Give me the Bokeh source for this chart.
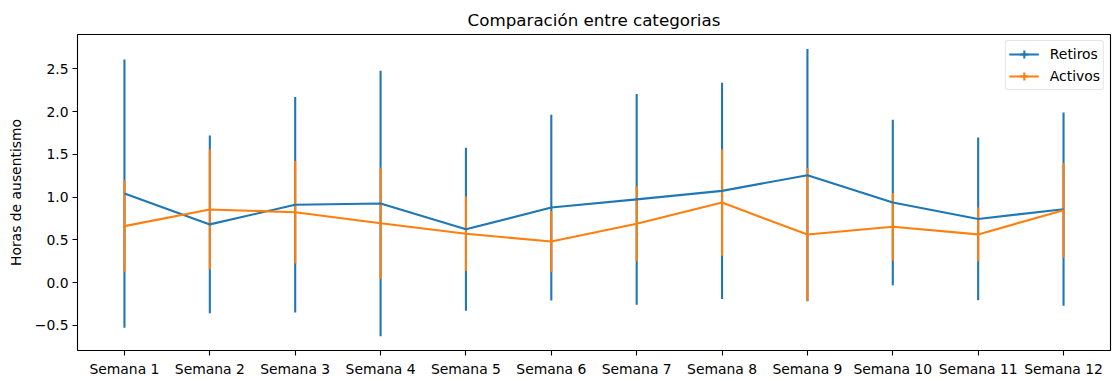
from bokeh.plotting import figure
from bokeh.models import FactorRange, Range1d, FixedTicker, Legend, LegendItem
from bokeh.embed import file_html
from bokeh.resources import INLINE

# Weekly absenteeism hours: mean and spread for each group
semanas = ["Semana 1", "Semana 2", "Semana 3", "Semana 4", "Semana 5", "Semana 6",
           "Semana 7", "Semana 8", "Semana 9", "Semana 10", "Semana 11", "Semana 12"]
retiros = [1.04, 0.68, 0.91, 0.925, 0.623, 0.877, 0.973, 1.072, 1.255, 0.937, 0.744, 0.858]
retiros_err = [1.57, 1.04, 1.26, 1.553, 0.954, 1.086, 1.232, 1.266, 1.475, 0.968, 0.952, 1.13]
activos = [0.66, 0.855, 0.822, 0.693, 0.57, 0.479, 0.687, 0.935, 0.562, 0.653, 0.563, 0.845]
activos_err = [0.535, 0.703, 0.6, 0.651, 0.435, 0.355, 0.438, 0.621, 0.778, 0.394, 0.314, 0.553]

y_ticks = [-0.5, 0.0, 0.5, 1.0, 1.5, 2.0, 2.5]
y_labels = ["\u22120.5", "0.0", "0.5", "1.0", "1.5", "2.0", "2.5"]

BLUE = "#1f77b4"
ORANGE = "#ff7f0e"
FONT = "DejaVu Sans"
LW = 2.1

p = figure(
    width=1113, height=379,
    x_range=FactorRange(factors=semanas, range_padding=0.05, range_padding_units="absolute"),
    y_range=Range1d(-0.795, 2.901),
    output_backend="svg", toolbar_location=None,
    min_border_left=77, min_border_right=3, min_border_top=34, min_border_bottom=28,
)
p.background_fill_color = "white"
p.border_fill_color = "white"
p.outline_line_color = "black"
p.outline_line_width = 1.1
p.xgrid.visible = False
p.ygrid.visible = False

p.title.text = "Comparación entre categorias"
p.title.align = "center"
p.title.text_font = FONT
p.title.text_font_size = "16.7px"
p.title.text_font_style = "normal"
p.title.text_color = "black"

for ax in (p.xaxis[0], p.yaxis[0]):
    ax.axis_line_color = None
    ax.major_tick_line_color = "black"
    ax.major_tick_line_width = 1.1
    ax.major_tick_out = 5
    ax.major_tick_in = 0
    ax.minor_tick_line_color = None
    ax.major_label_text_font = FONT
    ax.major_label_text_font_size = "13.9px"
    ax.major_label_text_color = "black"

p.xaxis.major_label_standoff = 5
p.yaxis.major_label_standoff = 4
p.yaxis.ticker = FixedTicker(ticks=y_ticks)
p.yaxis.major_label_overrides = dict(zip(y_ticks, y_labels))
p.yaxis.axis_label = "Horas de ausentismo"
p.yaxis.axis_label_text_font = FONT
p.yaxis.axis_label_text_font_size = "13.9px"
p.yaxis.axis_label_text_font_style = "normal"
p.yaxis.axis_label_text_color = "black"
p.yaxis.axis_label_standoff = 8

# error bars first, then the mean lines on top
for mean, err, color in ((retiros, retiros_err, BLUE), (activos, activos_err, ORANGE)):
    lo = [m - e for m, e in zip(mean, err)]
    hi = [m + e for m, e in zip(mean, err)]
    p.segment(x0=semanas, y0=lo, x1=semanas, y1=hi, line_color=color, line_width=LW)

items = []
for name, mean, color in (("Retiros", retiros, BLUE), ("Activos", activos, ORANGE)):
    ln = p.line(x=semanas, y=mean, line_color=color, line_width=LW)
    mk = p.scatter(x=semanas, y=mean, size=0, marker="cross", line_color=color, line_width=LW)
    items.append(LegendItem(label=name, renderers=[ln, mk]))

legend = Legend(
    items=items, location="top_right", margin=6, padding=3, spacing=2,
    glyph_width=30, glyph_height=20, label_height=20, label_standoff=11,
    label_text_font=FONT, label_text_font_size="13.9px", label_text_color="black",
    border_line_color="#cccccc", border_line_width=1, border_radius=3,
    background_fill_color="white", background_fill_alpha=0.8,
)
p.add_layout(legend, "center")

open("out.html", "w").write(file_html(p, INLINE))
